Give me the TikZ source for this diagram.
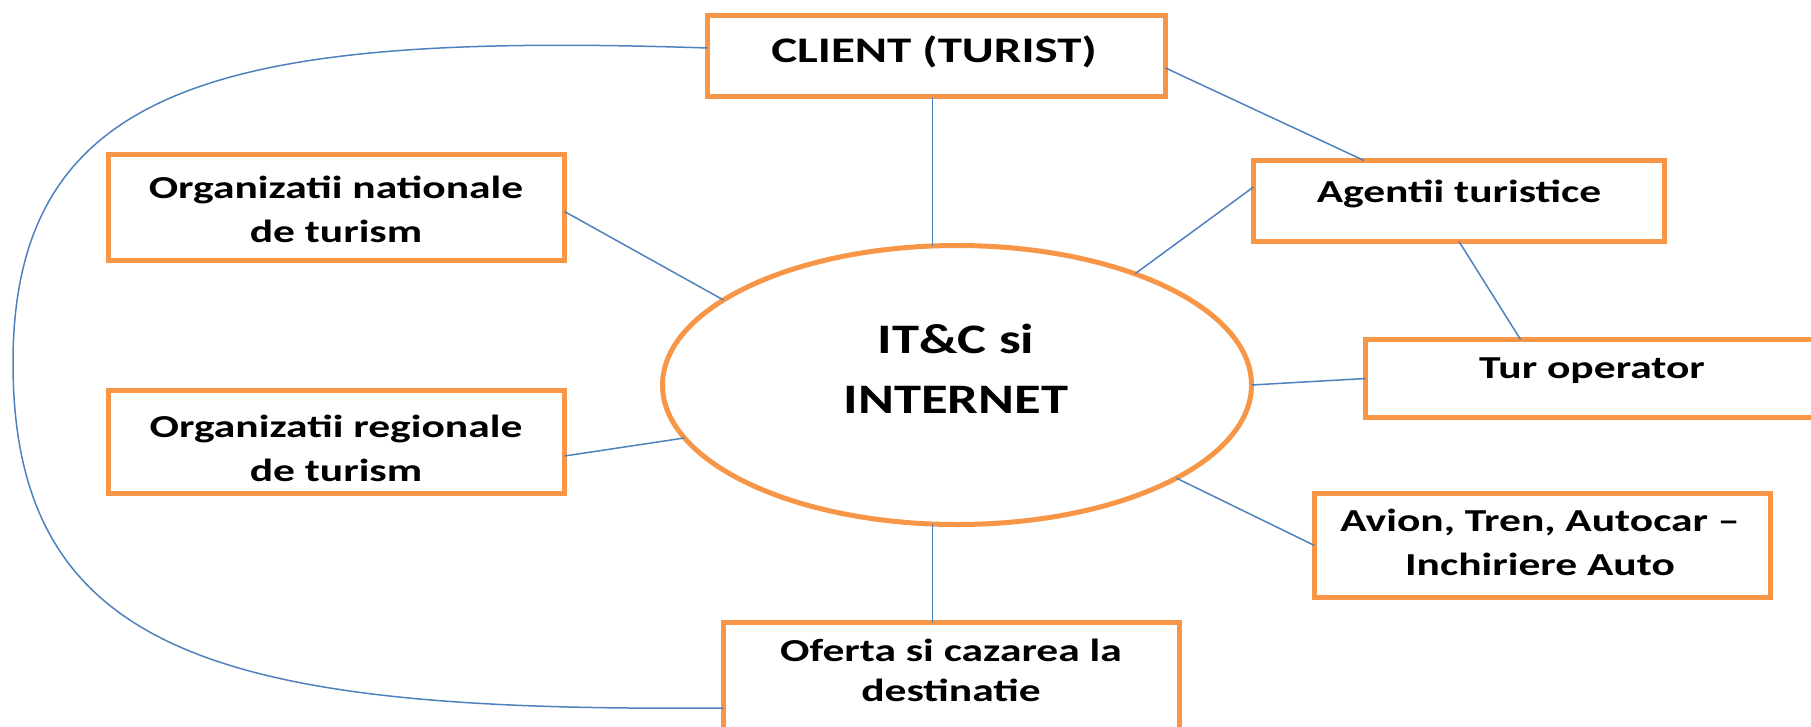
\documentclass[tikz,border=0pt]{standalone}
\usepackage{fontspec}
\setmainfont{Carlito}
\newfontfamily\widefont{Carlito}[FakeStretch=1.36]
\newfontfamily\ellfont{Carlito}[FakeStretch=1.3]
\usetikzlibrary{shapes.geometric,calc}
\definecolor{boxorange}{HTML}{F79646}
\definecolor{linkblue}{HTML}{4F81BD}
\tikzset{
  box/.style={draw=boxorange, line width=5pt, rectangle, inner sep=0pt, outer sep=0pt},
  txt/.style={anchor=base, align=center, inner sep=0pt, font=\widefont\fontsize{32}{44}\selectfont\bfseries},
  link/.style={draw=linkblue, line width=1.5pt},
}
\begin{document}
\begin{tikzpicture}[x=1pt,y=-1pt]
\useasboundingbox (0,0) rectangle (1811,726);
\clip (0,0) rectangle (1811,726);
% boxes (centres and outer sizes minus line width)
\node[box, minimum width=458, minimum height=81] (client) at (936.5,56) {};
\node[box, minimum width=456, minimum height=106] (orgnat) at (336.5,207.5) {};
\node[box, minimum width=411, minimum height=81] (agentii) at (1459,201) {};
\node[box, minimum width=462, minimum height=78] (tur) at (1596.5,378.5) {};
\node[box, minimum width=456, minimum height=103] (orgreg) at (336.5,442) {};
\node[box, minimum width=456, minimum height=104] (avion) at (1542.5,545.5) {};
\node[box, minimum width=456, minimum height=107] (oferta) at (951.5,676) {};
\node[draw=boxorange, line width=5pt, ellipse, inner sep=0pt, outer sep=0pt,
      minimum width=589, minimum height=279] (ell) at (957,385) {};
% texts (anchor=base is the baseline of the last line)
\node[txt, font=\widefont\fontsize{36}{44}\selectfont\bfseries] (clientT) at (934,62) {CLIENT (TURIST)};
\node[txt] (orgnatT) at (336,242) {Organizatii nationale\\de turism};
\node[txt] (agentiiT) at (1459,202) {Agentii turistice};
\node[txt] (turT) at (1592,378) {Tur operator};
\node[txt] (orgregT) at (336,481) {Organizatii regionale\\de turism};
\node[txt] (avionT) at (1540,575) {Avion, Tren, Autocar –\\Inchiriere Auto};
\node[txt, font=\widefont\fontsize{32}{40}\selectfont\bfseries] (ofertaT) at (951,701) {Oferta si cazarea la\\destinatie};
\node[txt, font=\ellfont\fontsize{42}{60}\selectfont\bfseries] (ellT) at (956,413) {IT\&C si\\INTERNET};
% connectors
\draw[link] (ell.100) -- (ell.100 |- client.south);
\draw[link] (ell.260) -- (ell.260 |- oferta.north);
\draw[link] ($(client.east)+(0,12)$) -- ($(agentii.north)+(-95,0)$);
\draw[link] ($(agentii.west)+(0,-14)$) -- (ell.32.7);
\draw[link] (agentii.south) -- ($(tur.north)+(-76,0)$);
\draw[link] ($(orgnat.east)+(0,4)$) -- (ell.160.4);
\draw[link] ($(orgreg.east)+(0,14)$) -- (ell.191.5);
\draw[link] (ell.0.8) -- (tur.west);
\draw[link] (ell.337) -- (avion.west);
\draw[link] ($(client.west)+(0,-8)$) .. controls (230,32) and (13,80) .. (13,363)
            .. controls (13,660) and (230,712) .. ($(oferta.west)+(0,32)$);
\end{tikzpicture}
\end{document}
